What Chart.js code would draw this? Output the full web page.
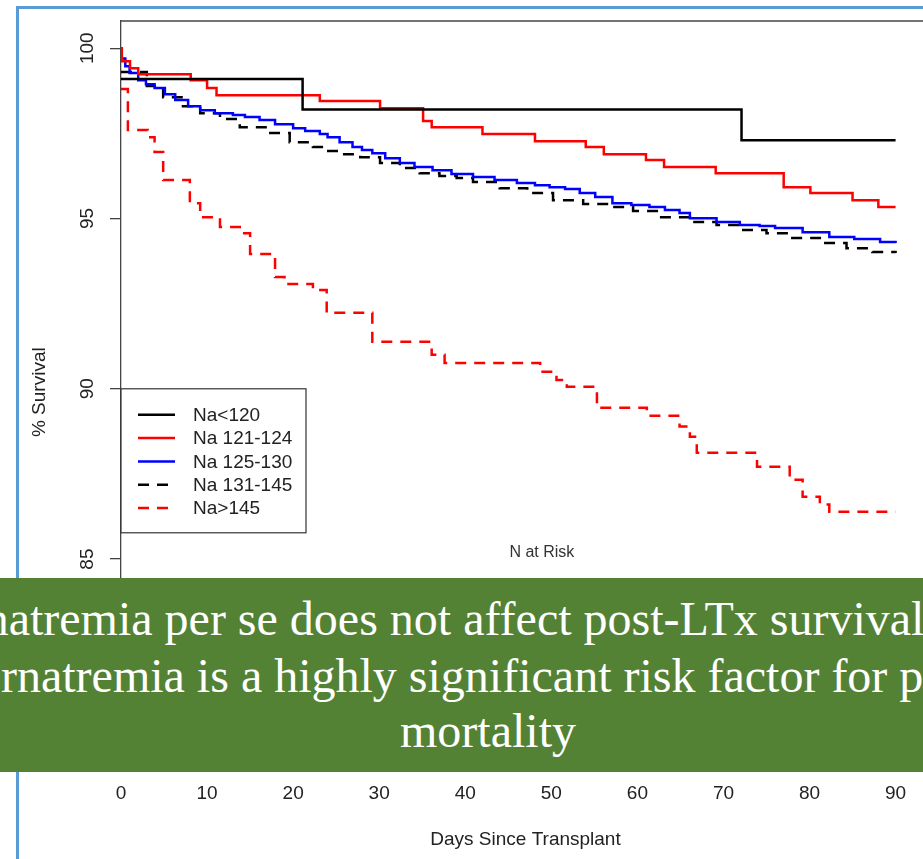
<!DOCTYPE html>
<html>
<head>
<meta charset="utf-8">
<script src="https://cdn.jsdelivr.net/npm/chart.js@4.4.0/dist/chart.umd.min.js"></script>
<style>
  html, body { margin: 0; padding: 0; background: #fff; overflow: hidden; }
  body { width: 923px; height: 859px; position: relative; }
  #frame { position: absolute; left: 16px; top: 6px; width: 1000px; height: 1000px; border: 3px solid #5b9bd5; }
  #canvas { position: absolute; left: 0; top: 0; }
  #banner { position: absolute; left: 0; top: 578px; width: 923px; height: 194px; background: #548235;
            overflow: hidden; color: #fff; font-family: "Liberation Serif", "Times New Roman", serif; font-size: 48px; }
  #banner div { position: absolute; white-space: nowrap; line-height: 56px; }
</style>
</head>
<body>
<div id="frame"></div>
<canvas id="canvas" width="940" height="859"></canvas>
<div id="banner">
  <div style="left:-122px; top:13px;">Hyponatremia per se does not affect post-LTx survival</div>
  <div style="left:-103px; top:70px;">Hypernatremia is a highly significant risk factor for post-LTx</div>
  <div style="left:0; width:976px; text-align:center; top:125px;">mortality</div>
</div>
<script>
const xTicks = [0, 10, 20, 30, 40, 50, 60, 70, 80, 90];
const yTicks = [80, 85, 90, 95, 100];

const groupLabels = ['Na<120', 'Na 121-124', 'Na 125-130', 'Na 131-145', 'Na>145'];

// Kaplan-Meier steps: day of each drop, survival after it
const daysLt120 = [0, 21.1, 72.1, 90];
const survLt120 = [99.1, 98.2, 97.3, 97.3];

const days121 = [0, 0.1, 1.05, 2.0, 8.1, 10.0, 11.1, 23.1, 30.1, 35.1, 36.1, 42.0, 48.1, 54.0, 56.1,
  61.0, 63.1, 69.1, 77.0, 80.1, 85.0, 88.0, 90];
const surv121 = [100, 99.62, 99.41, 99.24, 99.06, 98.83, 98.62, 98.45, 98.24, 97.86, 97.68, 97.48, 97.27, 97.10, 96.89,
  96.72, 96.51, 96.33, 95.92, 95.75, 95.54, 95.34, 95.34];

const days125 = [0, 0.5, 1.0, 2.0, 2.9, 3.9, 5.1, 6.3, 7.8, 9.2, 10.9, 13.0, 14.4, 16.1, 17.9, 20.0, 21.4,
  23.1, 24.0, 25.4, 26.9, 28.0, 29.2, 30.7, 32.4, 34.1, 36.2, 38.4, 40.9, 43.4, 46.0, 48.1, 49.8, 51.6,
  53.3, 55.1, 57.1, 59.3, 61.4, 63.2, 64.9, 66.1, 69.2, 71.9, 74.2, 76.0, 79.2, 82.3, 85.2, 88.2, 90];
const surv125 = [99.7, 99.47, 99.27, 99.06, 98.94, 98.83, 98.65, 98.48, 98.30, 98.18, 98.09, 98.04, 97.98, 97.89, 97.77, 97.65, 97.57,
  97.48, 97.39, 97.24, 97.10, 97.01, 96.92, 96.77, 96.63, 96.51, 96.42, 96.31, 96.22, 96.13, 96.04, 95.98, 95.92, 95.87,
  95.75, 95.63, 95.45, 95.40, 95.34, 95.25, 95.16, 95.01, 94.90, 94.81, 94.78, 94.72, 94.60, 94.46, 94.40, 94.31, 94.28];

const days131 = [0, 3.0, 4.9, 7.2, 9.2, 11.5, 13.8, 17.0, 19.6, 22.3, 23.5, 25.4, 27.8, 30.1, 32.4, 34.7, 37.0,
  39.0, 40.9, 44.0, 47.2, 50.2, 53.7, 57.1, 59.5, 62.6, 66.1, 69.2, 71.9, 75.0, 78.0, 81.2, 84.3, 87.3, 90];
const surv131 = [99.3, 98.89, 98.56, 98.30, 98.09, 97.92, 97.68, 97.51, 97.24, 97.10, 96.98, 96.89, 96.80, 96.63, 96.48, 96.33, 96.25,
  96.19, 96.07, 95.89, 95.75, 95.54, 95.43, 95.34, 95.22, 95.04, 94.90, 94.81, 94.66, 94.57, 94.43, 94.28, 94.13, 94.02, 93.99];

const daysGt145 = [0, 0.8, 3.1, 3.9, 4.9, 8.0, 9.2, 11.5, 13.8, 15.0, 17.9, 19.0, 22.3, 23.9, 29.2, 36.1, 37.6,
  48.7, 50.6, 51.8, 55.3, 61.1, 64.9, 66.1, 66.9, 73.9, 77.7, 79.2, 81.2, 82.3, 90];
const survGt145 = [98.8, 97.60, 97.39, 96.95, 96.13, 95.45, 95.04, 94.75, 94.57, 93.96, 93.28, 93.08, 92.90, 92.23, 91.38, 91.00, 90.76,
  90.50, 90.26, 90.06, 89.44, 89.21, 88.89, 88.59, 88.12, 87.71, 87.33, 86.83, 86.60, 86.39, 86.39];

const lineColors = ['#000000', '#ff0000', '#0000ff', '#000000', '#ff0000'];
const lineDashes = [[], [], [], [11, 8], [11, 8]];
const allDays = [daysLt120, days121, days125, days131, daysGt145];
const allSurv = [survLt120, surv121, surv125, surv131, survGt145];

const datasets = groupLabels.map((label, i) => ({
  label: label,
  data: allDays[i].map((d, j) => ({ x: d, y: allSurv[i][j] })),
  borderColor: lineColors[i],
  borderDash: lineDashes[i],
  borderWidth: 2.5,
  stepped: true,
  pointRadius: 0,
  fill: false,
}));

const textColor = '#222';
const sansFont = 'Liberation Sans, Arial, sans-serif';

// plot frame top edge, in-plot legend box and the "N at Risk" label
const extras = {
  id: 'extras',
  afterDatasetsDraw(chart) {
    const { ctx, chartArea, scales } = chart;
    ctx.save();
    ctx.strokeStyle = '#444';
    ctx.lineWidth = 1.3;
    ctx.beginPath();
    ctx.moveTo(chartArea.left, chartArea.top);
    ctx.lineTo(chartArea.right, chartArea.top);
    ctx.stroke();

    const bx = scales.x.getPixelForValue(0);
    const by = scales.y.getPixelForValue(90);
    ctx.fillStyle = '#fff';
    ctx.fillRect(bx, by, 185, 144);
    ctx.lineWidth = 1.2;
    ctx.strokeStyle = '#333';
    ctx.strokeRect(bx, by, 185, 144);

    ctx.font = '19px ' + sansFont;
    ctx.textBaseline = 'middle';
    ctx.textAlign = 'left';
    chart.data.datasets.forEach((ds, i) => {
      const ry = by + 26 + i * 23.3;
      ctx.strokeStyle = ds.borderColor;
      ctx.lineWidth = ds.borderWidth;
      ctx.setLineDash(ds.borderDash);
      ctx.beginPath();
      ctx.moveTo(bx + 17, ry);
      ctx.lineTo(bx + 54, ry);
      ctx.stroke();
      ctx.setLineDash([]);
      ctx.fillStyle = textColor;
      ctx.fillText(ds.label, bx + 72, ry + 1);
    });

    ctx.font = '16px ' + sansFont;
    ctx.textAlign = 'center';
    ctx.fillStyle = '#333';
    ctx.fillText('N at Risk', scales.x.getPixelForValue(48.9), scales.y.getPixelForValue(85.18));
    ctx.restore();
  }
};

Chart.defaults.font.family = sansFont;
Chart.defaults.color = textColor;

new Chart(document.getElementById('canvas'), {
  type: 'line',
  data: { datasets: datasets },
  options: {
    responsive: false,
    animation: false,
    layout: { padding: { left: 0, top: 21, right: 10, bottom: 0 } },
    plugins: { legend: { display: false }, tooltip: { enabled: false } },
    scales: {
      x: {
        type: 'linear',
        min: 0,
        max: 94,
        afterBuildTicks: s => { s.ticks = xTicks.map(v => ({ value: v })); },
        afterFit: s => { s.height = 95.6; },
        grid: { drawOnChartArea: false, drawTicks: true, tickLength: 7, color: '#444' },
        border: { display: false },
        ticks: { font: { size: 19 }, padding: 12, maxRotation: 0, autoSkip: false },
        title: { display: true, text: 'Days Since Transplant', font: { size: 19 }, padding: { top: 0, bottom: 7.6 } }
      },
      y: {
        min: 79,
        max: 100.8,
        afterBuildTicks: s => { s.ticks = yTicks.map(v => ({ value: v })); },
        afterFit: s => { s.width = 121; },
        grid: { drawOnChartArea: false, drawTicks: true, tickLength: 11, color: '#444', lineWidth: 1.3 },
        border: { display: true, color: '#444', width: 1.3 },
        ticks: { font: { size: 19 }, padding: 6.6, minRotation: 90, maxRotation: 90, crossAlign: 'center' },
        title: { display: true, text: '% Survival', font: { size: 19 }, padding: { top: 28, bottom: 0 } }
      }
    }
  },
  plugins: [extras]
});
</script>
</body>
</html>
